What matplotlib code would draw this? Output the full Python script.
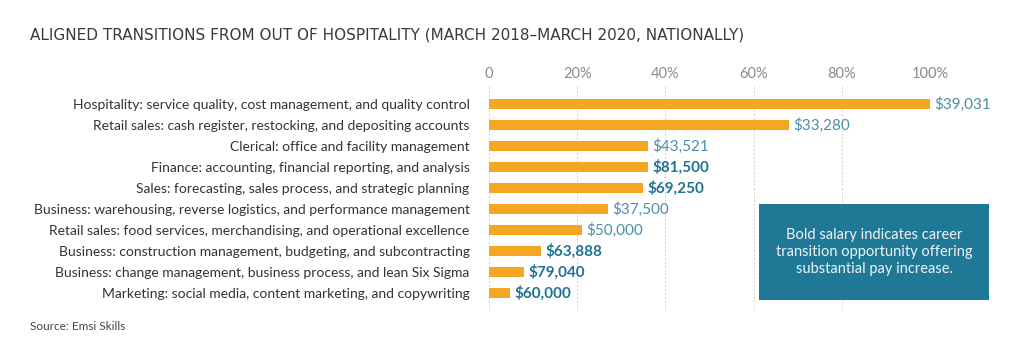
import matplotlib.pyplot as plt
from matplotlib.patches import Rectangle

categories = [
    "Hospitality: service quality, cost management, and quality control",
    "Retail sales: cash register, restocking, and depositing accounts",
    "Clerical: office and facility management",
    "Finance: accounting, financial reporting, and analysis",
    "Sales: forecasting, sales process, and strategic planning",
    "Business: warehousing, reverse logistics, and performance management",
    "Retail sales: food services, merchandising, and operational excellence",
    "Business: construction management, budgeting, and subcontracting",
    "Business: change management, business process, and lean Six Sigma",
    "Marketing: social media, content marketing, and copywriting",
]
share = [100, 68, 36.1, 36, 35, 27, 21, 11.8, 7.9, 4.8]
salaries = ["$39,031", "$33,280", "$43,521", "$81,500", "$69,250",
            "$37,500", "$50,000", "$63,888", "$79,040", "$60,000"]
bold = [False, False, False, True, True, False, False, True, True, True]
ticks = [0, 20, 40, 60, 80, 100]
tick_labels = ["0", "20%", "40%", "60%", "80%", "100%"]

W, H = 1024, 357
fig = plt.figure(figsize=(W / 100, H / 100), dpi=100)
plt.rcParams['font.family'] = ['Lato', 'DejaVu Sans']

orange = "#f5a623"
teal = "#1f7391"
light_teal = "#4a8fa8"
gray = "#8a8a8a"

# axes: 0% at x=489, 100% at x=930, top y=85, bottom y=310
ax = fig.add_axes([489 / W, (H - 310) / H, (930 - 489) / W, 225 / H])
ypos = list(range(len(categories)))
ax.barh(ypos, share, height=0.48, color=orange, zorder=2)
ax.set_xlim(0, 100)
ax.set_ylim(9.8, -0.9)
ax.set_xticks(ticks)
ax.set_xticklabels(tick_labels, color=gray, fontsize=10.5)
ax.xaxis.tick_top()
ax.tick_params(axis='x', length=0, pad=3)
ax.set_yticks(ypos)
ax.set_yticklabels(categories, fontsize=10, color="#333333")
ax.tick_params(axis='y', length=0, pad=14)
ax.grid(axis='x', color="#d0d0d0", linestyle=(0, (2, 2)), linewidth=0.7, zorder=0)
for s in ax.spines.values():
    s.set_visible(False)

for y, v, lab, b in zip(ypos, share, salaries, bold):
    ax.text(v + 1.0, y, lab, va='center', ha='left', fontsize=11,
            color=teal if b else light_teal,
            fontweight='bold' if b else 'normal', clip_on=False)

fig.text(30 / W, 1 - 35 / H, "ALIGNED TRANSITIONS FROM OUT OF HOSPITALITY (MARCH 2018\u2013MARCH 2020, NATIONALLY)",
         fontsize=11, color="#3a3a3a", va='center', ha='left', family=['DejaVu Sans'])
fig.text(30 / W, 1 - 327 / H, "Source: Emsi Skills", fontsize=8.5, color="#444444", va='center')

box = Rectangle((759 / W, 1 - 300 / H), (989 - 759) / W, (300 - 204) / H,
                transform=fig.transFigure, facecolor="#1e7896", edgecolor='none')
fig.patches.append(box)
fig.text((759 + 989) / 2 / W, 1 - 252 / H,
         "Bold salary indicates career\ntransition opportunity offering\nsubstantial pay increase.",
         ha='center', va='center', color='#eef4f7', fontsize=10.5, linespacing=1.3)

fig.savefig("out.png", dpi=100)
